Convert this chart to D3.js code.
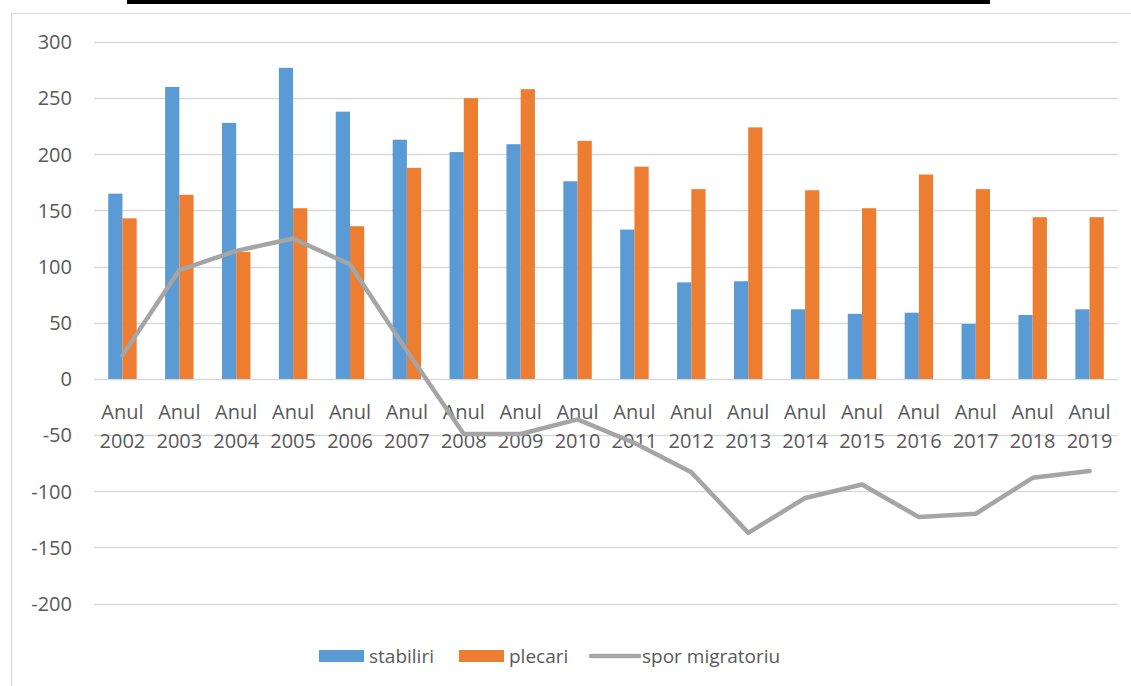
<!DOCTYPE html>
<html>
<head>
<meta charset="utf-8">
<script src="https://cdn.jsdelivr.net/npm/d3@7"></script>
<style>
  html, body { margin: 0; padding: 0; background: #fff; }
  svg { display: block; }
  text { font-family: "Open Sans", "Noto Sans", sans-serif; fill: #595959; }
</style>
</head>
<body>
<svg id="chart" width="1131" height="686"></svg>
<script>
const years = ["2002","2003","2004","2005","2006","2007","2008","2009","2010","2011","2012","2013","2014","2015","2016","2017","2018","2019"];
const categories = years.map(y => "Anul " + y);
const stabiliri = [165, 260, 228, 277, 238, 213, 202, 209, 176, 133, 86, 87, 62, 58, 59, 49, 57, 62];
const plecari   = [143, 164, 113, 152, 136, 188, 250, 258, 212, 189, 169, 224, 168, 152, 182, 169, 144, 144];
const sporMigratoriu = [21, 97, 114, 125, 102, 25, -49, -49, -36, -57, -83, -137, -106, -94, -123, -120, -88, -82];
const yTicks = [-200, -150, -100, -50, 0, 50, 100, 150, 200, 250, 300];
const seriesNames = ["stabiliri", "plecari", "spor migratoriu"];
const colors = { "stabiliri": "#5b9bd5", "plecari": "#ed7d31", "spor migratoriu": "#a5a5a5" };

const svg = d3.select("#chart");
const plot = { left: 94, right: 1118, top: 42, bottom: 603.6 };

// decorative top rule and chart frame (left + top edges visible)
svg.append("rect").attr("x", 127).attr("y", 0).attr("width", 863).attr("height", 4).attr("fill", "#000");
svg.append("path").attr("d", "M11.5,700 L11.5,13.5 L1131,13.5")
  .attr("fill", "none").attr("stroke", "#d9d9d9").attr("stroke-width", 1.2);

const y = d3.scaleLinear().domain([-200, 300]).range([plot.bottom, plot.top]);
const x = d3.scaleBand().domain(categories).range([plot.left, plot.right]).paddingInner(0).paddingOuter(0);
const xs = d3.scaleBand().domain(["stabiliri", "plecari"]).range([0, x.bandwidth()]).paddingInner(0).paddingOuter(1);

// gridlines
svg.append("g").selectAll("line").data(yTicks).join("line")
  .attr("x1", plot.left).attr("x2", plot.right)
  .attr("y1", d => Math.round(y(d)) + 0.5).attr("y2", d => Math.round(y(d)) + 0.5)
  .attr("stroke", "#d9d9d9").attr("stroke-width", 1.3);

// y axis labels
const yAxis = d3.axisLeft(y).tickValues(yTicks).tickSize(0).tickPadding(0).tickFormat(d => String(d));
const gy = svg.append("g").attr("transform", "translate(72,0)").call(yAxis);
gy.select(".domain").remove();
gy.selectAll("text").style("font-size", "20px").attr("fill", "#595959")
  .style("font-family", '"Open Sans", sans-serif').attr("dy", "0.34em");

// bars
const groups = svg.append("g").selectAll("g").data(categories).join("g")
  .attr("transform", d => `translate(${x(d)},0)`);
groups.append("rect")
  .attr("x", xs("stabiliri")).attr("width", xs.bandwidth())
  .attr("y", (d, i) => y(stabiliri[i])).attr("height", (d, i) => y(0) - y(stabiliri[i]))
  .attr("fill", colors["stabiliri"]);
groups.append("rect")
  .attr("x", xs("plecari")).attr("width", xs.bandwidth())
  .attr("y", (d, i) => y(plecari[i])).attr("height", (d, i) => y(0) - y(plecari[i]))
  .attr("fill", colors["plecari"]);

// x labels
const xl = svg.append("g").selectAll("text").data(categories).join("text")
  .attr("x", d => x(d) + x.bandwidth() / 2)
  .attr("text-anchor", "middle")
  .style("font-size", "20px");
xl.append("tspan").attr("x", d => x(d) + x.bandwidth() / 2).attr("y", 419).text(d => d.split(" ")[0]);
xl.append("tspan").attr("x", d => x(d) + x.bandwidth() / 2).attr("y", 448).text(d => d.split(" ")[1]);

// line
const line = d3.line().x((d, i) => x(categories[i]) + x.bandwidth() / 2).y(d => y(d));
svg.append("path").datum(sporMigratoriu).attr("d", line)
  .attr("fill", "none").attr("stroke", colors["spor migratoriu"]).attr("stroke-width", 4.5)
  .attr("stroke-linejoin", "round").attr("stroke-linecap", "round");

// legend
const legend = svg.append("g");
const legendX = [319, 459, 591];
const legendY = 656;
seriesNames.forEach((name, i) => {
  const g = legend.append("g").attr("transform", `translate(${legendX[i]},${legendY})`);
  if (i < 2) {
    g.append("rect").attr("x", 0).attr("y", -6).attr("width", 45).attr("height", 12).attr("fill", colors[name]);
    g.append("text").attr("x", 50).attr("y", 0).attr("dy", "0.35em").style("font-size", "19px").text(name);
  } else {
    g.append("line").attr("x1", 0).attr("x2", 48).attr("y1", 0).attr("y2", 0)
      .attr("stroke", colors[name]).attr("stroke-width", 4.5).attr("stroke-linecap", "round");
    g.append("text").attr("x", 51).attr("y", 0).attr("dy", "0.35em").style("font-size", "19px").text(name);
  }
});
</script>
</body>
</html>
